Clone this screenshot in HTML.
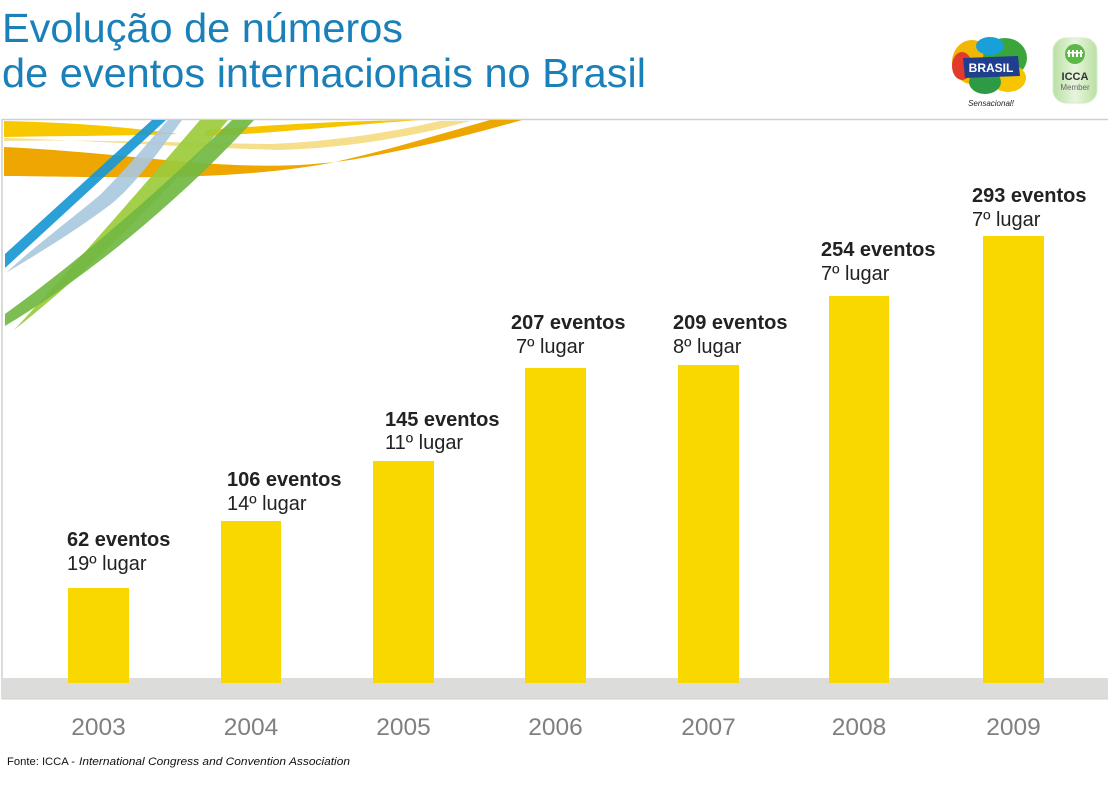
<!DOCTYPE html>
<html>
<head>
<meta charset="utf-8">
<style>
  html, body { margin: 0; padding: 0; background: #ffffff; }
  svg { display: block; }
  .t { font-family: "Liberation Sans", Arial, sans-serif; }
</style>
</head>
<body>
<svg width="1108" height="786" viewBox="0 0 1108 786" xmlns="http://www.w3.org/2000/svg">
  <rect x="0" y="0" width="1108" height="786" fill="#ffffff"/>

  <!-- Title -->
  <text class="t" x="2" y="42" font-size="41" fill="#1a80b9" textLength="401" lengthAdjust="spacingAndGlyphs">Evolução de números</text>
  <text class="t" x="2" y="87" font-size="41" fill="#1a80b9" textLength="644" lengthAdjust="spacingAndGlyphs">de eventos internacionais no Brasil</text>

  <!-- Brasil logo -->
  <g>
    <ellipse cx="972" cy="62" rx="20" ry="22" fill="#f2b705"/>
    <ellipse cx="962" cy="66" rx="10" ry="14" fill="#e23a2b"/>
    <ellipse cx="1005" cy="58" rx="22" ry="20" fill="#3aa53b"/>
    <ellipse cx="990" cy="46" rx="14" ry="9" fill="#1aa0d8"/>
    <ellipse cx="1008" cy="78" rx="18" ry="14" fill="#f7c400"/>
    <ellipse cx="985" cy="82" rx="16" ry="12" fill="#2f9a44"/>
    <path d="M963,58 L1018,56 L1020,76 L965,78 Z" fill="#1f3f8e"/>
    <text class="t" x="991" y="72" font-size="12" font-weight="bold" fill="#ffffff" text-anchor="middle">BRASIL</text>
    <text class="t" x="991" y="106" font-size="8" font-style="italic" fill="#222" text-anchor="middle">Sensacional!</text>
  </g>

  <!-- ICCA badge -->
  <defs>
    <linearGradient id="icg" x1="0" y1="0" x2="1" y2="0">
      <stop offset="0" stop-color="#b9e0a2"/>
      <stop offset="0.5" stop-color="#e8f5de"/>
      <stop offset="1" stop-color="#b9e0a2"/>
    </linearGradient>
  </defs>
  <rect x="1053" y="38" width="44" height="65" rx="13" ry="13" fill="url(#icg)" stroke="#d6ecc9" stroke-width="1"/>
  <circle cx="1075" cy="54" r="10" fill="#5cb847"/>
  <g fill="#ffffff">
    <rect x="1068" y="50" width="2" height="7"/>
    <rect x="1072" y="50" width="2" height="7"/>
    <rect x="1076" y="50" width="2" height="7"/>
    <rect x="1080" y="50" width="2" height="7"/>
    <rect x="1067" y="52" width="16" height="1.5"/>
  </g>
  <text class="t" x="1075" y="80" font-size="11" font-weight="bold" fill="#333" text-anchor="middle">ICCA</text>
  <text class="t" x="1075" y="90" font-size="8" fill="#666" text-anchor="middle">Member</text>

  <!-- Frame -->
  <line x1="2" y1="119.5" x2="1108" y2="119.5" stroke="#cfcfcf" stroke-width="1.5"/>
  <line x1="2" y1="119" x2="2" y2="699" stroke="#cfcfcf" stroke-width="1.5"/>

  <!-- Ribbons -->
  <g>
    <!-- top yellow -->
    <path d="M4,121 C60,122 120,126 178,134 C120,136 60,136 4,137 Z" fill="#f7c700"/>
    <!-- right yellow -->
    <path d="M205,130 C260,126 330,121 420,120 L380,123 C320,128 260,134 205,136 Z" fill="#f6c500"/>
    <!-- light yellow -->
    <path d="M4,138 C80,140 180,147 280,150 C350,148 420,135 470,121 L440,121 C380,135 320,142 270,144 C180,143 90,139 4,141 Z" fill="#f4dc80" opacity="0.9"/>
    <!-- orange -->
    <path d="M4,147 C70,150 140,158 200,163 C260,167 300,167 350,160 C420,148 480,132 522,120 L490,120 C440,134 390,150 330,163 C260,176 180,178 100,177 C60,177 30,176 4,176 Z" fill="#eea600"/>
    <!-- light blue -->
    <path d="M168,120 L182,120 C160,150 135,185 110,205 C70,235 30,258 6,273 C30,250 70,220 100,195 C130,165 150,140 168,120 Z" fill="#a9c8df" opacity="0.9"/>
    <!-- blue -->
    <path d="M152,120 L166,120 L5,268 L5,254 Z" fill="#1898d4" opacity="0.92"/>
    <!-- light green wedge -->
    <path d="M200,120 L228,120 C170,190 90,270 14,330 C70,270 140,190 200,120 Z" fill="#9bcb3c" opacity="0.92"/>
    <!-- dark green -->
    <path d="M232,120 L254,120 C180,200 90,275 5,326 L5,314 C80,260 160,190 232,120 Z" fill="#72b843" opacity="0.92"/>
  </g>

  <!-- Gray baseline band -->
  <rect x="2" y="678" width="1106" height="21" fill="#dcdcdb"/>
  <line x1="2" y1="699" x2="1108" y2="699" stroke="#cfcfcf" stroke-width="1"/>

  <!-- Bars -->
  <g fill="#f9d800">
    <rect x="68" y="588" width="61" height="95"/>
    <rect x="221" y="521" width="60" height="162"/>
    <rect x="373" y="461" width="61" height="222"/>
    <rect x="525" y="368" width="61" height="315"/>
    <rect x="678" y="365" width="61" height="318"/>
    <rect x="829" y="296" width="60" height="387"/>
    <rect x="983" y="236" width="61" height="447"/>
  </g>

  <!-- Bar labels -->
  <g class="t" font-size="20" fill="#222222">
    <text x="67" y="546" font-weight="bold">62 eventos</text>
    <text x="67" y="570">19º lugar</text>

    <text x="227" y="486" font-weight="bold">106 eventos</text>
    <text x="227" y="510">14º lugar</text>

    <text x="385" y="426" font-weight="bold">145 eventos</text>
    <text x="385" y="449">11º lugar</text>

    <text x="511" y="329" font-weight="bold">207 eventos</text>
    <text x="516" y="353">7º lugar</text>

    <text x="673" y="329" font-weight="bold">209 eventos</text>
    <text x="673" y="353">8º lugar</text>

    <text x="821" y="256" font-weight="bold">254 eventos</text>
    <text x="821" y="280">7º lugar</text>

    <text x="972" y="202" font-weight="bold">293 eventos</text>
    <text x="972" y="226">7º lugar</text>
  </g>

  <!-- Year labels -->
  <g class="t" font-size="24.5" fill="#808080" text-anchor="middle">
    <text x="98.5" y="735">2003</text>
    <text x="251" y="735">2004</text>
    <text x="403.5" y="735">2005</text>
    <text x="555.5" y="735">2006</text>
    <text x="708.5" y="735">2007</text>
    <text x="859" y="735">2008</text>
    <text x="1013.5" y="735">2009</text>
  </g>

  <!-- Source -->
  <text class="t" x="7" y="765" font-size="11" fill="#111" textLength="68" lengthAdjust="spacingAndGlyphs">Fonte: ICCA -</text>
  <text class="t" x="79" y="765" font-size="11" font-style="italic" fill="#111" textLength="271" lengthAdjust="spacingAndGlyphs">International Congress and Convention Association</text>
</svg>
</body>
</html>
